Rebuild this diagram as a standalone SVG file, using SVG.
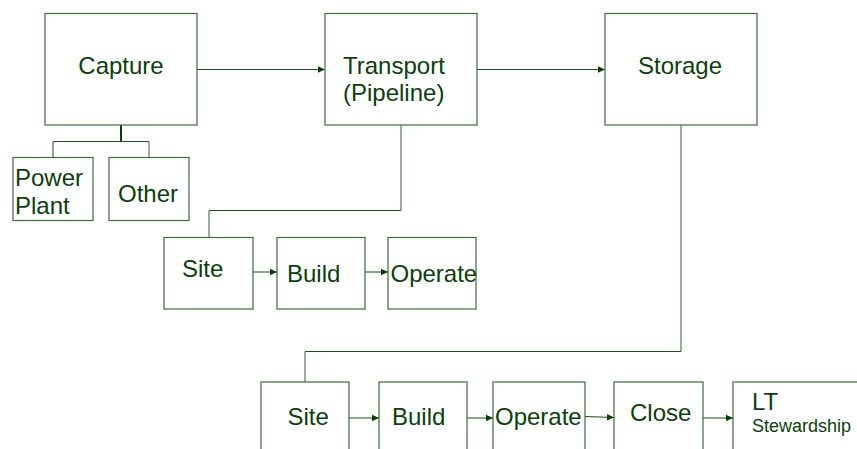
<svg xmlns="http://www.w3.org/2000/svg" width="857" height="449" viewBox="0 0 857 449">
<style>
.box{fill:#ffffff;stroke:#3d6b3d;stroke-width:1.2}
.t{font-family:"Liberation Sans",Arial,sans-serif;font-size:24px;fill:#0b400b}
.s{font-size:18px}
.c{fill:none;stroke:#1e4d1e;stroke-width:1}
.g{fill:none;stroke:#5f855f;stroke-width:1.3}
</style>
<defs>
<marker id="ah" markerWidth="8" markerHeight="8" refX="7" refY="4" orient="auto" markerUnits="userSpaceOnUse">
<path d="M0,0.8 L7,4 L0,7.2 Z" fill="#0b3d0b"/>
</marker>
</defs>
<rect width="857" height="449" fill="#ffffff"/>
<g id="connectors">
<line class="c" x1="197" y1="69.5" x2="325" y2="69.5" marker-end="url(#ah)"/>
<line class="c" x1="477" y1="69.5" x2="605" y2="69.5" marker-end="url(#ah)"/>
<line x1="121" y1="125" x2="121" y2="141" stroke="#0b3d0b" stroke-width="2"/>
<polyline class="c" points="53,157 53,141.5 149,141.5"/>
<line class="g" x1="149" y1="141.5" x2="149" y2="157"/>
<polyline class="g" points="401,125 401,210.5"/>
<polyline class="c" points="401,210.5 209,210.5"/>
<line class="g" x1="209" y1="210.5" x2="209" y2="237"/>
<line class="c" x1="253" y1="272" x2="277" y2="272" marker-end="url(#ah)"/>
<line class="c" x1="365" y1="272" x2="388" y2="272" marker-end="url(#ah)"/>
<polyline class="g" points="681,125 681,351.5"/>
<polyline class="c" points="681,351.5 305,351.5"/>
<line class="g" x1="305" y1="351.5" x2="305" y2="382"/>
<line class="c" x1="349" y1="418" x2="379" y2="418" marker-end="url(#ah)"/>
<line class="c" x1="467" y1="418" x2="493" y2="418" marker-end="url(#ah)"/>
<line class="c" x1="585" y1="416.5" x2="614" y2="417.5" marker-end="url(#ah)"/>
<line class="c" x1="703" y1="418" x2="733" y2="418" marker-end="url(#ah)"/>
</g>
<g id="capture"><rect class="box" x="45" y="13.5" width="152" height="111.5"/><text class="t" x="121" y="74" text-anchor="middle">Capture</text></g>
<g id="transport"><rect class="box" x="325" y="13.5" width="152" height="111.5"/><text class="t" x="343" y="74">Transport</text><text class="t" x="343" y="101">(Pipeline)</text></g>
<g id="storage"><rect class="box" x="605" y="13.5" width="152" height="111.5"/><text class="t" x="638" y="74">Storage</text></g>
<g id="powerplant"><rect class="box" x="13" y="157.5" width="80" height="63"/><text class="t" x="15" y="186">Power</text><text class="t" x="15" y="214">Plant</text></g>
<g id="other"><rect class="box" x="109" y="157.5" width="80" height="63"/><text class="t" x="148" y="202" text-anchor="middle">Other</text></g>
<g id="site1"><rect class="box" x="164" y="237.5" width="89" height="71.5"/><text class="t" x="182" y="277">Site</text></g>
<g id="build1"><rect class="box" x="277" y="237.5" width="88" height="71.5"/><text class="t" x="287" y="282">Build</text></g>
<g id="operate1"><rect class="box" x="388" y="237.5" width="88" height="71.5"/><text class="t" x="390.5" y="282">Operate</text></g>
<g id="site2"><rect class="box" x="261" y="382" width="88" height="80"/><text class="t" x="287.5" y="425">Site</text></g>
<g id="build2"><rect class="box" x="379" y="382" width="88" height="80"/><text class="t" x="392" y="425">Build</text></g>
<g id="operate2"><rect class="box" x="493" y="382" width="92" height="80"/><text class="t" x="495" y="425">Operate</text></g>
<g id="close"><rect class="box" x="614" y="382" width="89" height="80"/><text class="t" x="630" y="421">Close</text></g>
<g id="ltstewardship"><rect class="box" x="733" y="382" width="140" height="80"/><text class="t" x="752" y="410">LT</text><text class="t s" x="752" y="432">Stewardship</text></g>
</svg>
